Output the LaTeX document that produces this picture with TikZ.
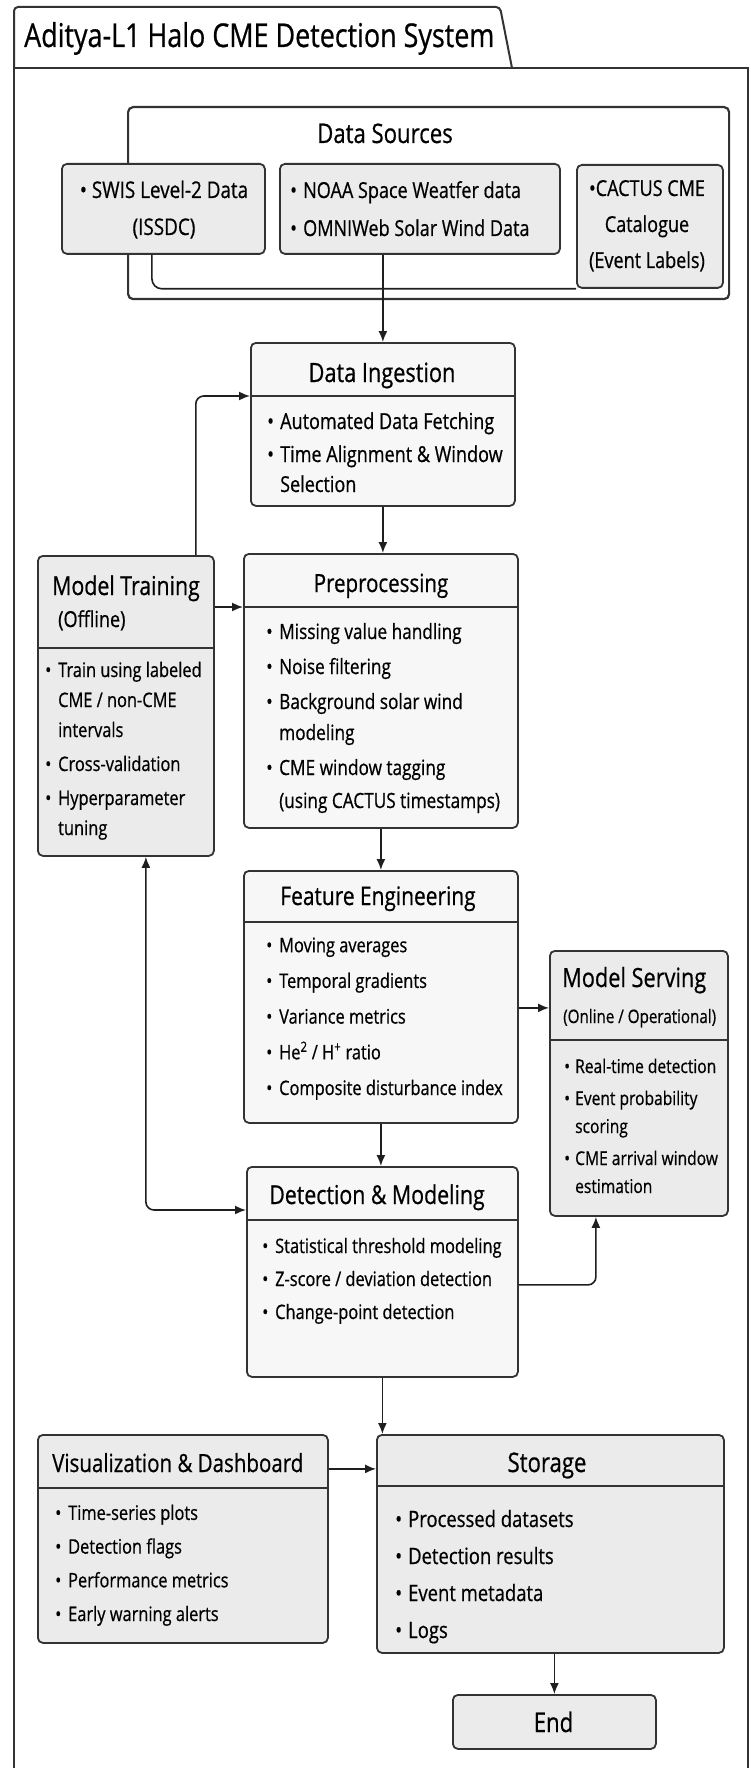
\documentclass[tikz,border=0pt]{standalone}
\usepackage{fontspec}
\setmainfont{Open Sans}[FakeStretch=0.82,FakeBold=0.6]
\usetikzlibrary{arrows.meta}
\definecolor{boxgray}{HTML}{EBEBEB}
\definecolor{boxlite}{HTML}{F7F7F7}
\definecolor{edge}{HTML}{333333}
\newcommand{\bul}{\makebox[13pt][l]{\textbullet}}
\newcommand{\cont}{\hspace*{13pt}}
\newcommand{\fs}[2]{\fontsize{#1}{#2}\selectfont}
\tikzset{
  box/.style={draw=edge, line width=1.8pt, rounded corners=5pt, fill=#1, inner sep=0pt, anchor=north west},
  hdr/.style={draw=edge, line width=1.6pt},
  ttl/.style={font=\fs{26}{30}, inner sep=0pt, anchor=base},
  itm/.style={font=\fs{20}{33}, inner sep=0pt, align=left, anchor=base west},
  conn/.style={draw=black!88, line width=1.6pt},
  arr/.style={conn, -{Latex[length=11pt,width=9pt]}},
  arrboth/.style={conn, {Latex[length=11pt,width=9pt]}-{Latex[length=11pt,width=9pt]}},
}
\begin{document}
\begin{tikzpicture}[x=1pt,y=-1pt]
\useasboundingbox (0,0) rectangle (751,1768);
% outer frame with title tab
\draw[edge, line width=2pt] (14,1790) -- (14,68) -- (748,68) -- (748,1790);
\draw[edge, line width=2pt, rounded corners=4pt] (14,68) -- (14,7) -- (500,7) -- (512,68);
\node[font=\fs{32.8}{36}, inner sep=0pt, anchor=base west] (title) at (24,47) {Aditya-L1 Halo CME Detection System};

% data sources (multi-line texts sit on their last baseline)
\node[box=white, line width=2.2pt, minimum width=601pt, minimum height=192pt] (srcs) at (127,106) {};
\node[ttl, font=\fs{27}{30}] (srcsT) at (385,143) {Data Sources};
\node[box=boxgray, minimum width=203pt, minimum height=90pt] (swis) at (61,163) {};
\node[box=boxgray, minimum width=280pt, minimum height=90pt] (noaa) at (279,163) {};
\node[box=boxgray, minimum width=146pt, minimum height=123pt] (cactus) at (576,164) {};
\draw[conn, rounded corners=10pt] ([xshift=-11.5pt]swis.south) |- (cactus.south west);
\node[inner sep=0pt, font=\fs{23}{37}, align=center, anchor=base] (swisL) at (164,235) {\textbullet\ SWIS Level-2 Data\\(ISSDC)};
\node[itm, font=\fs{22}{38}] (noaaL) at (290,236) {\bul NOAA Space Weatfer data\\\bul OMNIWeb Solar Wind Data};
\node[inner sep=0pt, font=\fs{22}{36}, align=center, anchor=base] (cactusL) at (647,268) {\textbullet CACTUS CME\\Catalogue\\(Event Labels)};

% main column
\node[box=boxlite, minimum width=264pt, minimum height=163pt] (ingest) at (250,342) {};
\draw[hdr] (ingest.west |- 0,396) -- (ingest.east |- 0,396);
\node[ttl, font=\fs{26.5}{30}] (ingestT) at (382,382) {Data Ingestion};
\node[itm, font=\fs{22}{33}] (ingestL) at (267,492) {\bul Automated Data Fetching\\\bul Time Alignment \& Window\\[-3pt]\cont Selection};

\node[box=boxlite, minimum width=274pt, minimum height=274pt] (prep) at (243,553) {};
\draw[hdr] (prep.west |- 0,607) -- (prep.east |- 0,607);
\node[ttl, font=\fs{25}{30}] (prepT) at (381,592) {Preprocessing};
\node[itm, font=\fs{21}{35}] (prepL) at (266,808) {\bul Missing value handling\\\bul Noise filtering\\\bul Background solar wind\\[-4pt]\cont modeling\\\bul CME window tagging\\[-2pt]\cont(using CACTUS timestamps)};

\node[box=boxlite, minimum width=274pt, minimum height=252pt] (feat) at (243,870) {};
\draw[hdr] (feat.west |- 0,922) -- (feat.east |- 0,922);
\node[ttl, font=\fs{25.5}{30}] (featT) at (378,905) {Feature Engineering};
\node[itm, font=\fs{20}{35.7}] (featL) at (266,1095) {\bul Moving averages\\\bul Temporal gradients\\\bul Variance metrics\\\bul He\textsuperscript{2} / H\textsuperscript{+} ratio\\\bul Composite disturbance index};

\node[box=boxlite, minimum width=271pt, minimum height=210pt] (detect) at (246,1166) {};
\draw[hdr] (detect.west |- 0,1220) -- (detect.east |- 0,1220);
\node[ttl] (detectT) at (377,1204) {Detection \& Modeling};
\node[itm] (detectL) at (262,1319) {\bul Statistical threshold modeling\\\bul Z-score / deviation detection\\\bul Change-point detection};

% side boxes
\node[box=boxgray, minimum width=176pt, minimum height=300pt] (train) at (37,555) {};
\draw[hdr] (train.west |- 0,648) -- (train.east |- 0,648);
\node[ttl, anchor=base west] (trainT) at (52,595) {Model Training};
\node[ttl, font=\fs{22}{26}, anchor=base west] (trainS) at (58,627) {(Offline)};
\node[itm, font=\fs{20}{34}] (trainL) at (45,835) {\bul Train using labeled\\[-4pt]\cont CME / non-CME\\[-4pt]\cont intervals\\\bul Cross-validation\\\bul Hyperparameter\\[-4pt]\cont tuning};

\node[box=boxgray, minimum width=178pt, minimum height=265pt] (serve) at (549,950) {};
\draw[hdr] (serve.west |- 0,1040) -- (serve.east |- 0,1040);
\node[ttl, font=\fs{26.5}{30}, anchor=base west] (serveT) at (562,987) {Model Serving};
\node[ttl, font=\fs{18.5}{22}, anchor=base west] (serveS) at (563,1023) {(Online / Operational)};
\node[itm, font=\fs{19}{32}] (serveL) at (564,1193) {\makebox[11pt][l]{\textbullet}Real-time detection\\\makebox[11pt][l]{\textbullet}Event probability\\[-4pt]\hspace*{11pt}scoring\\\makebox[11pt][l]{\textbullet}CME arrival window\\[-4pt]\hspace*{11pt}estimation};

\node[box=boxgray, minimum width=290pt, minimum height=208pt] (viz) at (37,1434) {};
\draw[hdr] (viz.west |- 0,1488) -- (viz.east |- 0,1488);
\node[ttl, font=\fs{25}{30}, anchor=base west] (vizT) at (52,1472) {Visualization \& Dashboard};
\node[itm, font=\fs{20}{33.7}] (vizL) at (55,1621) {\bul Time-series plots\\\bul Detection flags\\\bul Performance metrics\\\bul Early warning alerts};

\node[box=boxgray, minimum width=347pt, minimum height=218pt] (store) at (376,1434) {};
\draw[hdr] (store.west |- 0,1486) -- (store.east |- 0,1486);
\node[ttl, font=\fs{27}{30}] (storeT) at (547,1472) {Storage};
\node[itm, font=\fs{22.5}{37}] (storeL) at (395,1638) {\bul Processed datasets\\\bul Detection results\\\bul Event metadata\\\bul Logs};

\node[box=boxgray, minimum width=203pt, minimum height=54pt] (end) at (452,1694) {};
\node[ttl, font=\fs{27}{30}] (endT) at (553.5,1732) {End};

% connectors
\coordinate (ingL) at (250,396);
\coordinate (prepL) at (243,607);
\coordinate (detL) at (246,1210);
\draw[arr] (noaa.south -| ingest.north) -- (ingest.north);
\draw[arr] (ingest.south) -- (ingest.south |- prep.north);
\draw[arr] (prep.south) -- (prep.south |- feat.north);
\draw[arr] (feat.south) -- (feat.south |- detect.north);
\draw[arr] (detect.south) -- (detect.south |- store.north);
\draw[arr] (end.north |- store.south) -- (end.north);
\draw[arr, rounded corners=8pt] ([xshift=-19pt]train.north east) |- (ingL);
\draw[arr] (train.east |- prepL) -- (prepL);
\draw[arrboth, rounded corners=8pt] ([xshift=20pt]train.south) |- (detL);
\draw[arr] ([yshift=-11pt]feat.east) -- ([yshift=-11pt]feat.east -| serve.west);
\draw[arr, rounded corners=8pt] ([yshift=-13pt]detect.east) -| ([xshift=-43pt]serve.south);
\draw[arr] ([yshift=70pt]viz.east) -- ([yshift=70pt]viz.east -| store.west);
\end{tikzpicture}
\end{document}
